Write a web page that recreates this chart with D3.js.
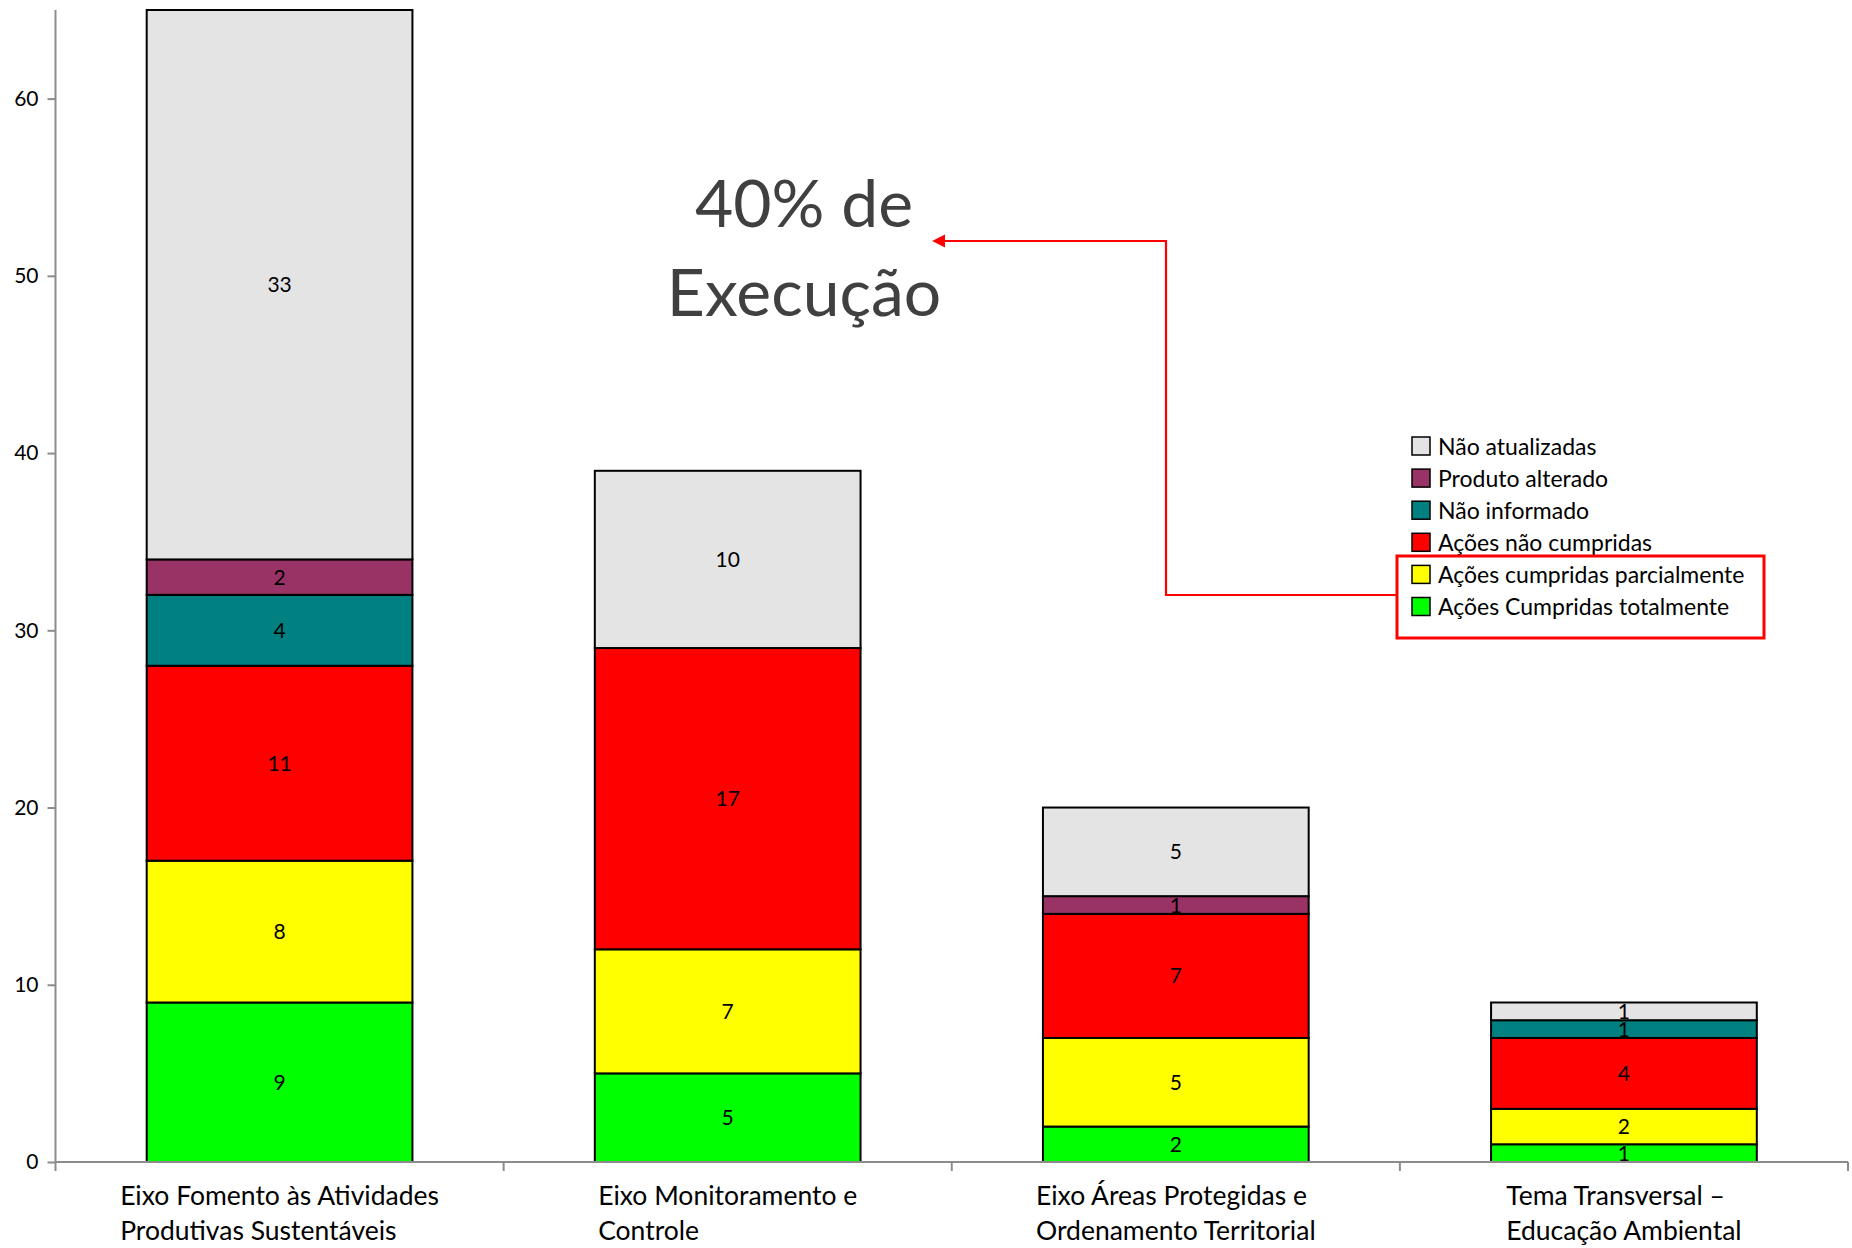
<!DOCTYPE html>
<html><head><meta charset="utf-8">
<script src="https://cdn.jsdelivr.net/npm/d3@7"></script>
<style>html,body{margin:0;padding:0;background:#fff;}svg{display:block;font-family:Lato,"Open Sans",sans-serif;}</style>
</head><body>
<svg id="chart" width="1852" height="1248"></svg>
<script>
const categories = [
  ["Eixo Fomento às Atividades", "Produtivas Sustentáveis"],
  ["Eixo Monitoramento e", "Controle"],
  ["Eixo Áreas Protegidas e", "Ordenamento Territorial"],
  ["Tema Transversal –", "Educação Ambiental"]
];
const seriesNames = ["Ações Cumpridas totalmente","Ações cumpridas parcialmente","Ações não cumpridas","Não informado","Produto alterado","Não atualizadas"];
const seriesColors = ["#00ff00","#ffff00","#ff0000","#008080","#993366","#e4e4e4"];
const totalmente    = [9, 5, 2, 1];
const parcialmente  = [8, 7, 5, 2];
const naoCumpridas  = [11, 17, 7, 4];
const naoInformado  = [4, 0, 0, 1];
const produtoAlter  = [2, 0, 1, 0];
const naoAtualiz    = [33, 10, 5, 1];
const yTicks = [0, 10, 20, 30, 40, 50, 60];
const yMax = 65;
const annotation = ["40% de", "Execução"];

const seriesValues = [totalmente, parcialmente, naoCumpridas, naoInformado, produtoAlter, naoAtualiz];
const rows = categories.map((c, i) => {
  const r = {key: i};
  seriesNames.forEach((s, j) => r[s] = seriesValues[j][i]);
  return r;
});
const stack = d3.stack().keys(seriesNames)(rows);

const svg = d3.select("#chart");
const x0 = 55.5, x1 = 1848, yTop = 10, yBot = 1162;
const x = d3.scaleBand().domain(d3.range(categories.length)).range([x0, x1]).padding(0);
const y = d3.scaleLinear().domain([0, yMax]).range([yBot, yTop]);
const barW = x.bandwidth() * 0.593;
const color = d3.scaleOrdinal().domain(seriesNames).range(seriesColors);

svg.append("defs").append("clipPath").attr("id","plotclip")
  .append("rect").attr("x", x0).attr("y", yTop - 1).attr("width", x1 - x0).attr("height", yBot - yTop + 2);

const g = svg.append("g").attr("clip-path","url(#plotclip)");
const layers = g.selectAll("g.layer").data(stack).join("g").attr("class","layer")
  .attr("fill", d => color(d.key));
layers.selectAll("rect").data(d => d.filter(p => p[1] - p[0] > 0)).join("rect")
  .attr("x", d => x(d.data.key) + (x.bandwidth() - barW) / 2)
  .attr("y", d => y(Math.min(d[1], yMax)))
  .attr("width", barW)
  .attr("height", d => y(d[0]) - y(Math.min(d[1], yMax)))
  .attr("stroke", "#000").attr("stroke-width", 2);

// data labels
stack.forEach(layer => {
  layer.forEach(p => {
    const v = p[1] - p[0];
    if (v <= 0) return;
    const top = Math.min(p[1], yMax);
    svg.append("text")
      .attr("x", x(p.data.key) + x.bandwidth() / 2)
      .attr("y", (y(p[0]) + y(top)) / 2)
      .attr("dy", "0.36em")
      .attr("text-anchor", "middle")
      .attr("font-size", 21).attr("fill", "#000")
      .text(v);
  });
});

// y axis
const yAxis = svg.append("g").attr("transform", `translate(${x0},0)`)
  .call(d3.axisLeft(y).tickValues(yTicks).tickSize(8).tickPadding(9).tickSizeOuter(0));
yAxis.select(".domain").attr("d", `M0,${yTop}V${yBot}`).attr("stroke", "#8c8c8c").attr("stroke-width", 2);
yAxis.selectAll(".tick line").attr("stroke", "#8c8c8c").attr("stroke-width", 2);
yAxis.selectAll(".tick text").attr("font-size", 21).attr("fill", "#000").attr("font-family", "Lato");

// x axis
const xAxisG = svg.append("g");
xAxisG.append("line").attr("x1", x0).attr("x2", x1).attr("y1", yBot).attr("y2", yBot)
  .attr("stroke", "#8c8c8c").attr("stroke-width", 2);
const bounds = x.domain().map(d => x(d)).concat([x1]);
xAxisG.selectAll("line.tk").data(bounds).join("line").attr("class","tk")
  .attr("x1", d => d).attr("x2", d => d).attr("y1", yBot).attr("y2", yBot + 9)
  .attr("stroke", "#8c8c8c").attr("stroke-width", 2);

// category labels (left-aligned lines, block centred on band)
categories.forEach((lines, i) => {
  const t = svg.append("text").attr("font-size", 26.5).attr("fill", "#000");
  lines.forEach((ln, k) => t.append("tspan").attr("x", 0).attr("y", 1205 + k * 35).text(ln));
  const w = t.node().getBBox().width;
  t.attr("transform", `translate(${x(i) + x.bandwidth() / 2 - w / 2},0)`);
});

// annotation
annotation.forEach((ln, k) => {
  svg.append("text").attr("x", 804).attr("y", 227 + k * 89)
    .attr("text-anchor", "middle").attr("font-size", 66).attr("fill", "#404040").text(ln);
});

// arrow
svg.append("defs").append("marker").attr("id","arr").attr("viewBox","0 0 10 10")
  .attr("refX", 1).attr("refY", 5).attr("markerWidth", 6).attr("markerHeight", 6)
  .attr("orient", "auto-start-reverse").attr("markerUnits","strokeWidth")
  .append("path").attr("d","M0,0L10,5L0,10z").attr("fill","#ff0000");
svg.append("path").attr("d", d3.line()([[1397, 595],[1166, 595],[1166, 241],[944, 241]]))
  .attr("fill","none").attr("stroke","#ff0000").attr("stroke-width", 2.2)
  .attr("marker-end","url(#arr)");

// legend
const legendTop = 446.5, legendStep = 32.1;
const legendOrder = seriesNames.slice().reverse();
const lg = svg.append("g");
legendOrder.forEach((s, k) => {
  const cy = legendTop + k * legendStep;
  lg.append("rect").attr("x", 1412).attr("y", cy - 9.5).attr("width", 18).attr("height", 18)
    .attr("fill", color(s)).attr("stroke", "#000").attr("stroke-width", 1.5);
  lg.append("text").attr("x", 1438).attr("y", cy).attr("dy", "0.36em")
    .attr("font-size", 23).attr("fill", "#000").text(s);
});
svg.append("rect").attr("x", 1397).attr("y", 556).attr("width", 367).attr("height", 82)
  .attr("fill", "none").attr("stroke", "#ff0000").attr("stroke-width", 3);
</script>
</body></html>
